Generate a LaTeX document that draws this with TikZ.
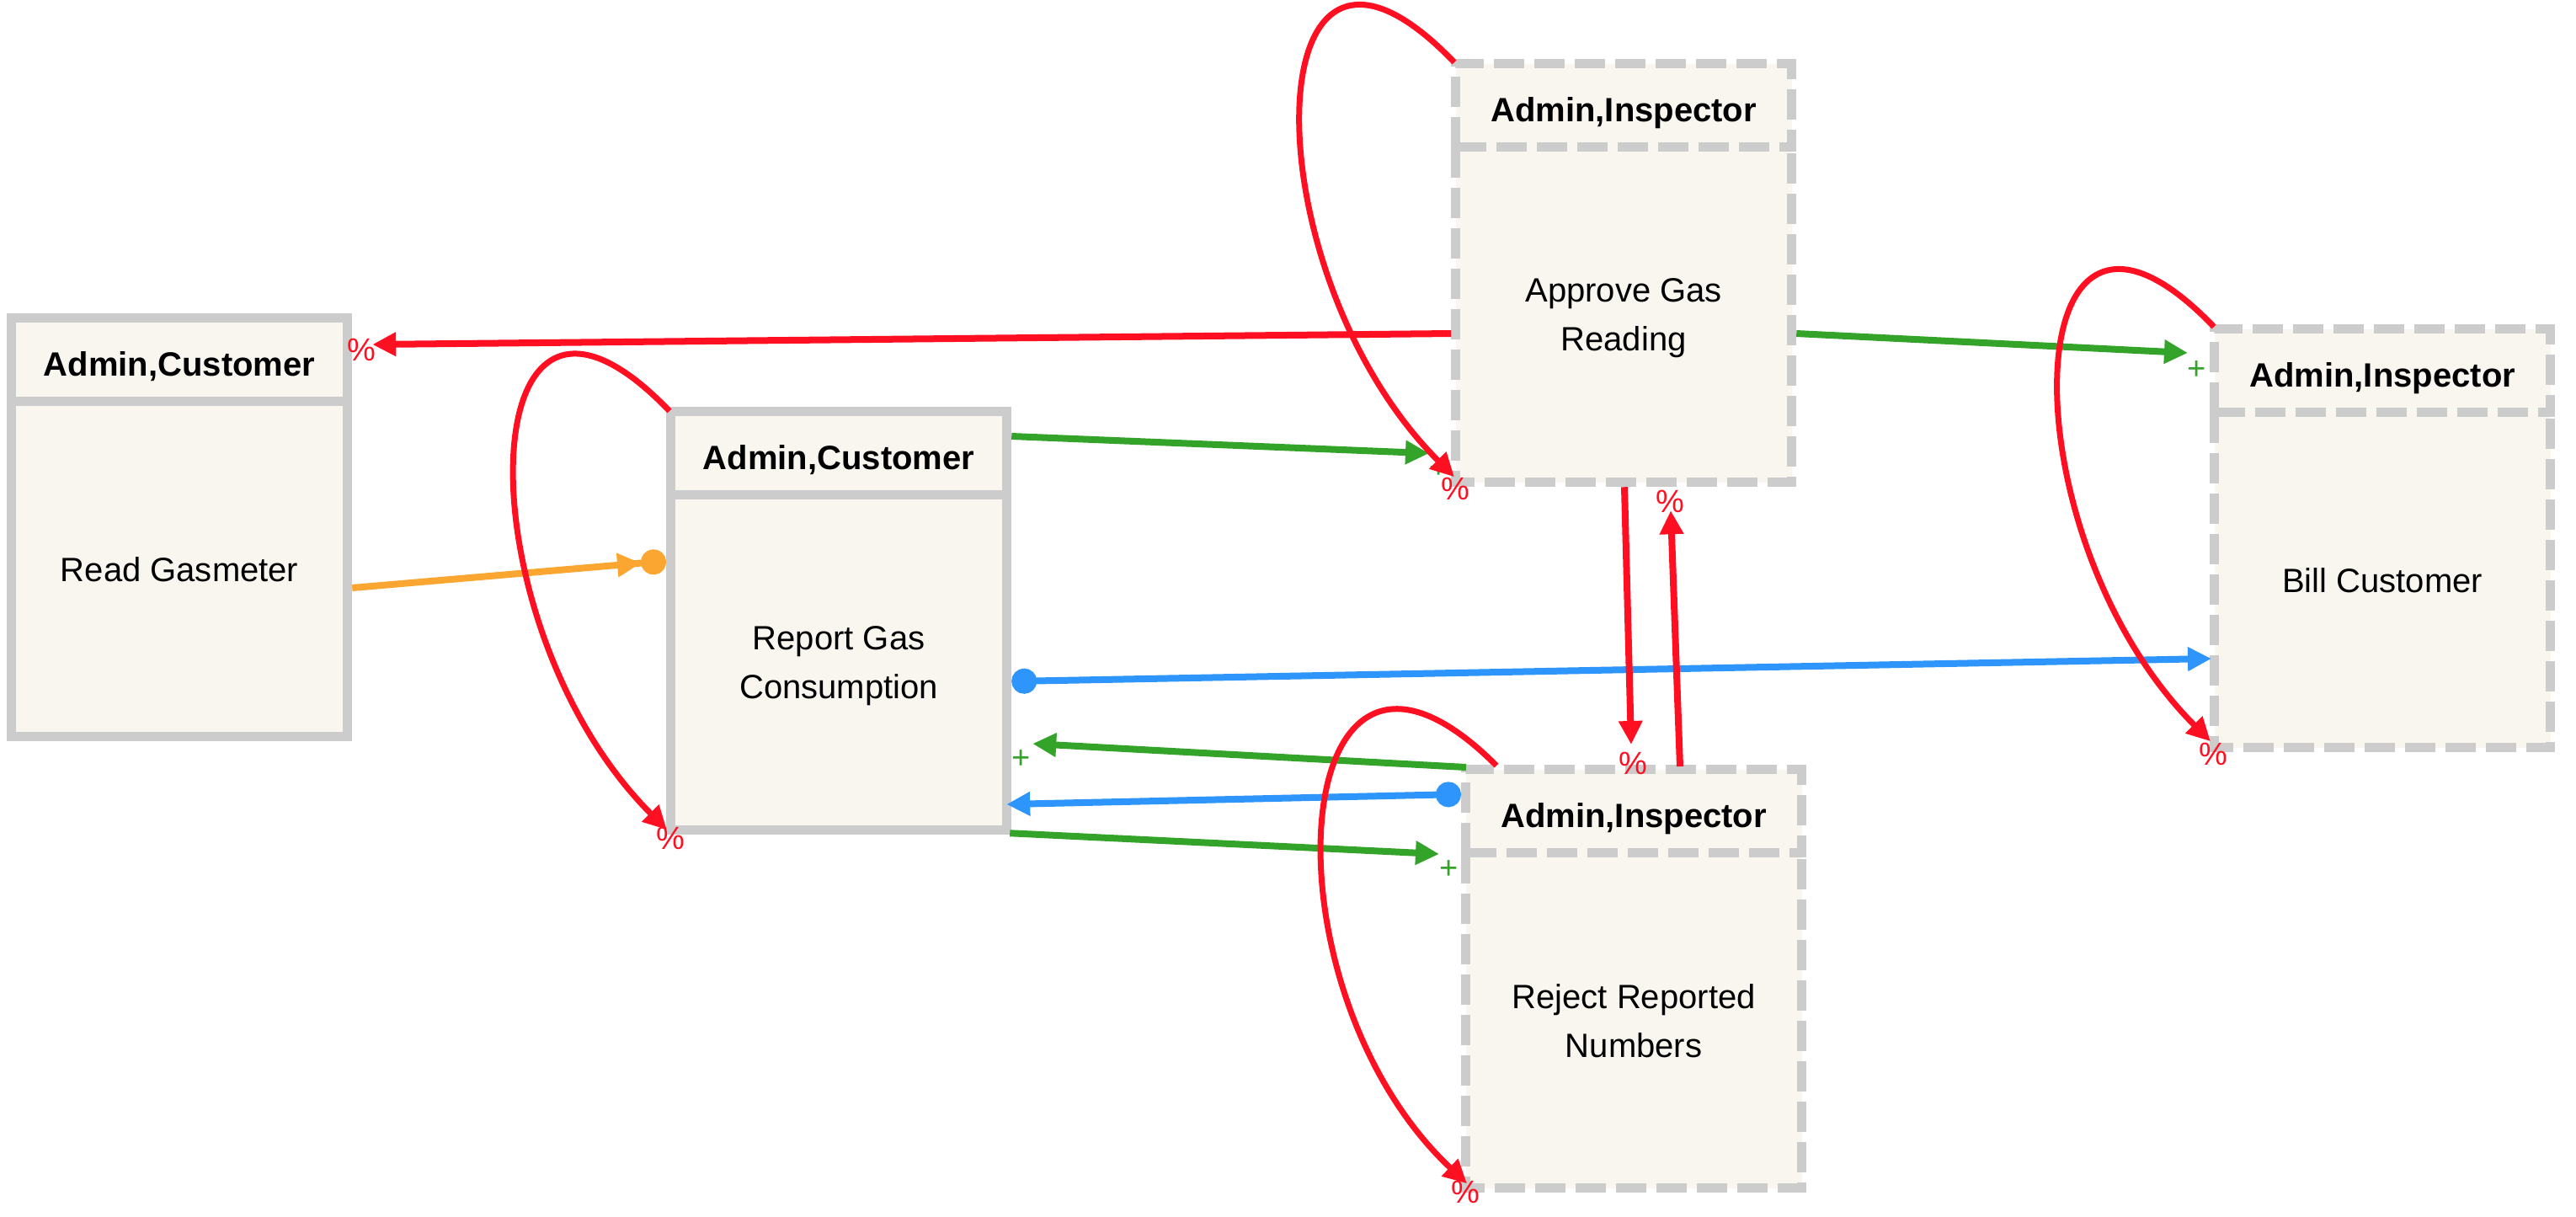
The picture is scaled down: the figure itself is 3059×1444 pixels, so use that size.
\documentclass[tikz,border=0pt]{standalone}
\usepackage{fontspec}
\setmainfont{Liberation Sans}
\usetikzlibrary{arrows.meta,calc}
\definecolor{bgray}{RGB}{204,204,204}
\definecolor{cream}{RGB}{248,246,238}
\definecolor{ered}{RGB}{254,16,34}
\definecolor{egreen}{RGB}{52,163,42}
\definecolor{eblue}{RGB}{45,149,251}
\definecolor{eorange}{RGB}{250,166,48}
\tikzset{
  boxbase/.style={rectangle, inner sep=0pt, outer sep=0pt, anchor=north west, minimum width=3.99cm, align=center, fill=cream},
  hdr/.style={boxbase, draw=bgray, line width=0.11cm, minimum height=0.99cm, text height=0.39cm, text depth=0pt, font=\fontsize{11.38}{16.5}\selectfont\bfseries},
  bdy/.style={boxbase, minimum height=3.98cm, text depth=0pt, font=\fontsize{11.38}{16.5}\selectfont},
  frm/.style={draw=bgray, line width=0.11cm},
  dsh/.style={dash pattern=on 0.36cm off 0.12cm},
  conn/.style={line width=0.08cm, -{Triangle[length=0.28cm,width=0.27cm]}},
  redc/.style={conn, draw=ered},
  redl/.style={conn, draw=ered, line width=0.07cm},
  greenc/.style={conn, draw=egreen},
  bluec/.style={line width=0.08cm, draw=eblue, {Circle[length=0.30cm]}-{Triangle[length=0.28cm,width=0.27cm]}},
  orangec/.style={line width=0.08cm, draw=eorange, -{Triangle[length=0.28cm,width=0.27cm] Circle[length=0.30cm]}},
  lbl/.style={inner sep=0pt, font=\fontsize{10.8}{12}\selectfont},
  pct/.style={lbl, text=ered},
  pls/.style={lbl, text=egreen},
}
\begin{document}
\begin{tikzpicture}[x=0.01cm,y=-0.01cm]
\useasboundingbox (0,0) rectangle (3059,1444);
% Box 1
\node[bdy] (b1) at (13.5,476.5) {Read Gasmeter};
\node[hdr] (h1) at (13.5,377.5) {Admin,Customer};
\draw[frm] (b1.north west) -- (b1.south west) -- (b1.south east) -- (b1.north east);
% Box 2
\node[bdy] (b2) at (796.5,587.5) {Report Gas\\Consumption};
\node[hdr] (h2) at (796.5,488.5) {Admin,Customer};
\draw[frm] (b2.north west) -- (b2.south west) -- (b2.south east) -- (b2.north east);
% Box 3
\node[bdy] (b3) at (1728.5,174.5) {Approve Gas\\Reading};
\node[hdr,dsh] (h3) at (1728.5,75.5) {Admin,Inspector};
\draw[frm,dsh] (b3.north west) -- (b3.south west) -- (b3.south east) -- (b3.north east);
% Box 4
\node[bdy] (b4) at (1740.5,1012.5) {Reject Reported\\Numbers};
\node[hdr,dsh] (h4) at (1740.5,913.5) {Admin,Inspector};
\draw[frm,dsh] (b4.north west) -- (b4.south west) -- (b4.south east) -- (b4.north east);
% Box 5
\node[bdy] (b5) at (2629.5,489.5) {Bill Customer};
\node[hdr,dsh] (h5) at (2629.5,390.5) {Admin,Inspector};
\draw[frm,dsh] (b5.north west) -- (b5.south west) -- (b5.south east) -- (b5.north east);

% Straight connectors
\draw[redc] ($(b3.north west)+(-5.5,221.5)$) -- ($(h1.north east)+(29.5,31.5)$);
\node[pct] (p1) at (429,415) {\%};

\draw[greenc] ($(b3.north east)+(5.5,221.5)$) -- ($(h5.north west)+(-31.5,28.5)$);
\node[pls] (q2) at (2609,440) {+};

\draw[greenc] ($(h2.north east)+(5.5,29.5)$) -- ($(b3.south west)+(-31.5,-34.5)$);
\node[pls] (q3) at (1709,557) {+};

\draw[orangec] ($(b1.north east)+(5.5,221.5)$) -- ($(b2.north west)+(-5.5,78.5)$);

\draw[bluec] ($(b2.north east)+(5.5,221.5)$) -- ($(b5.north west)+(-3.5,292.5)$);

\draw[bluec] ($(h4.north west)+(-5.5,29.5)$) -- ($(b2.north east)+(-0.5,367.5)$);

\draw[greenc] ($(h4.north west)+(0.5,-2.5)$) -- ($(b2.north east)+(30.5,295.5)$);
\node[pls] (q7) at (1213,902) {+};

\draw[greenc] ($(b2.south east)+(3.5,3.5)$) -- ($(h4.north west)+(-31.5,100.5)$);
\node[pls] (q8) at (1721,1033) {+};

\draw[redc] ($(b3.south west)+(200.5,5.5)$) -- ($(h4.north west)+(196.5,-29.5)$);
\node[pct] (p9) at (1939,906) {\%};

\draw[redc] ($(h4.north west)+(254.5,-3.5)$) -- ($(b3.south west)+(255.5,33.5)$);
\node[pct] (p10) at (1983,595) {\%};

% Self loops
\draw[redl] ($(h2.north west)+(-1.5,-0.5)$) .. controls +(-240,-250) and +(-245,-245) .. ($(b2.south west)+(-4.5,-0.5)$);
\node[pct] (p2) at (796,995) {\%};

\draw[redl] ($(h3.north west)+(-1.5,-1.5)$) .. controls +(-240,-250) and +(-245,-245) .. ($(b3.south west)+(-1.5,-6.5)$);
\node[pct] (p3) at (1728,580) {\%};

\draw[redl] ($(h4.north west)+(36.5,-4.5)$) .. controls +(-250,-250) and +(-250,-235) .. ($(b4.south west)+(1.5,-5.5)$);
\node[pct] (p4) at (1740,1415) {\%};

\draw[redl] ($(h5.north west)+(-0.5,-2.5)$) .. controls +(-240,-250) and +(-245,-245) .. ($(b5.south west)+(-4.5,-7.5)$);
\node[pct] (p5) at (2628,895) {\%};
\end{tikzpicture}
\end{document}
